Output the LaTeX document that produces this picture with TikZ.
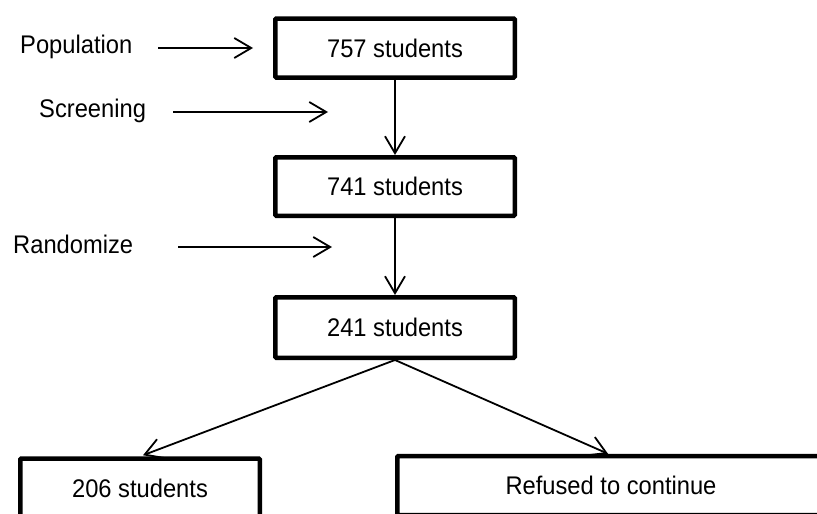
\documentclass[tikz,border=0pt]{standalone}
\usepackage{fontspec}
\setmainfont{Liberation Sans}[FakeStretch=0.93]
\usetikzlibrary{arrows.meta}
\tikzset{
  stbox/.style={draw, line width=4.5pt, rounded corners=1pt, inner sep=0pt,
    minimum width=239.5pt, minimum height=59pt, font=\fontsize{25.5}{30}\selectfont},
  lbl/.style={anchor=base west, inner sep=0pt, font=\fontsize{25.5}{30}\selectfont},
  arr/.style={line width=1.8pt, -{Straight Barb[length=17pt, width=20pt, line width=1.8pt]}},
}
\begin{document}
\begin{tikzpicture}[x=1pt,y=-1pt]
\clip (0,0) rectangle (817,514);
\fill[white] (0,0) rectangle (817,514);

\node[stbox] (b757) at (395,48) {757 students};
\node[stbox, minimum height=58.5pt] (b741) at (395,186.5) {741 students};
\node[stbox, minimum height=60.5pt] (b241) at (395,327.5) {241 students};
\node[stbox] (b206) at (140,488) {206 students};
\node[stbox, minimum width=427.5pt] (bref) at (611,485.5) {Refused to continue};

\node[lbl] (pop) at (20,53) {Population};
\node[lbl] (scr) at (39,117) {Screening};
\node[lbl] (ran) at (13,253) {Randomize};

\coordinate (p1) at (158,48);  \coordinate (p2) at (253,48);
\coordinate (s1) at (173,112); \coordinate (s2) at (328,112);
\coordinate (r1) at (178,247); \coordinate (r2) at (332,247);

\draw[arr] (p1) -- (p2);
\draw[arr] (s1) -- (s2);
\draw[arr] (r1) -- (r2);

\draw[arr] (b757.south) -- (b741.north);
\draw[arr] (b741.south) -- (b241.north);
\draw[arr] (b241.south) -- ([xshift=3pt,yshift=1pt]b206.north);
\draw[arr] (b241.south) -- ([xshift=-3pt,yshift=0pt]bref.north);
\end{tikzpicture}
\end{document}
